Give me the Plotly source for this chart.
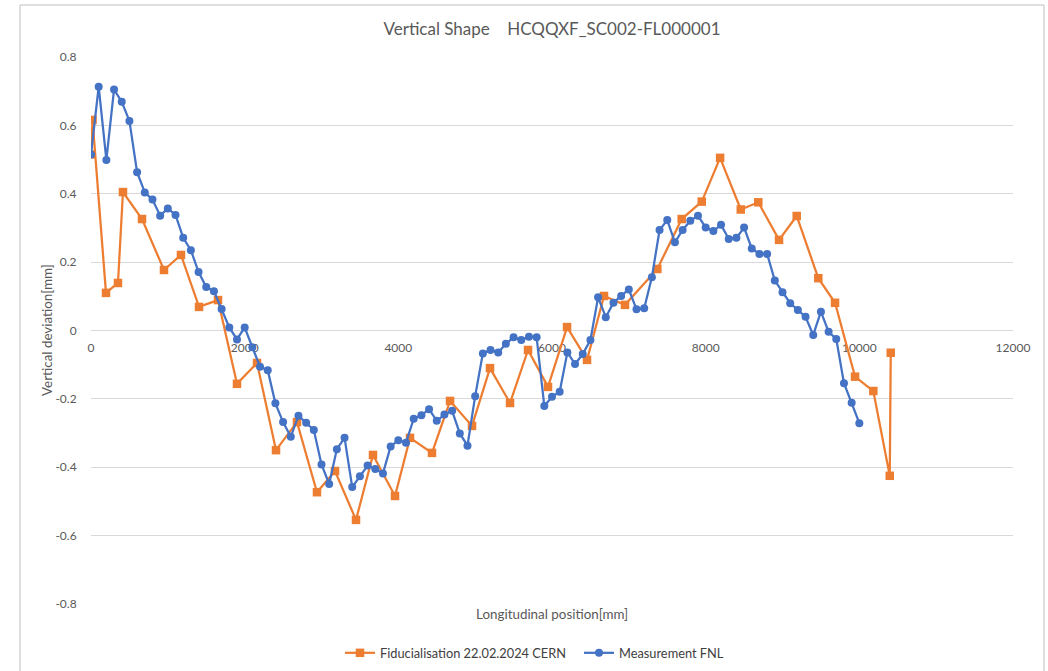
import plotly.graph_objects as go

# ---- data ----
fnl_x = [0, 100, 200, 300, 400, 500, 600, 700, 800, 900,
         1000, 1100, 1200, 1300, 1400, 1500, 1600, 1700, 1800, 1900,
         2000, 2100, 2200, 2300, 2400, 2500, 2600, 2700, 2800, 2900,
         3000, 3100, 3200, 3300, 3400, 3500, 3600, 3700, 3800, 3900,
         4000, 4100, 4200, 4300, 4400, 4500, 4600, 4700, 4800, 4900,
         5000, 5100, 5200, 5300, 5400, 5500, 5600, 5700, 5800, 5900,
         6000, 6100, 6200, 6300, 6400, 6500, 6600, 6700, 6800, 6900,
         7000, 7100, 7200, 7300, 7400, 7500, 7600, 7700, 7800, 7900,
         8000, 8100, 8200, 8300, 8400, 8500, 8600, 8700, 8800, 8900,
         9000, 9100, 9200, 9300, 9400, 9500, 9600, 9700, 9800, 9900,
         10000]
fnl_y = [0.515, 0.713, 0.499, 0.705, 0.669, 0.613, 0.463, 0.404, 0.383, 0.336,
         0.357, 0.338, 0.271, 0.235, 0.171, 0.127, 0.115, 0.063, 0.009, -0.026,
         0.009, -0.049, -0.106, -0.116, -0.213, -0.268, -0.311, -0.249, -0.270, -0.291,
         -0.392, -0.449, -0.347, -0.314, -0.458, -0.426, -0.395, -0.405, -0.418, -0.339,
         -0.321, -0.328, -0.258, -0.248, -0.230, -0.264, -0.246, -0.235, -0.301, -0.337,
         -0.192, -0.067, -0.057, -0.064, -0.039, -0.020, -0.028, -0.018, -0.020, -0.221,
         -0.194, -0.179, -0.064, -0.098, -0.069, -0.028, 0.097, 0.039, 0.081, 0.101,
         0.120, 0.062, 0.065, 0.156, 0.294, 0.323, 0.258, 0.294, 0.321, 0.336,
         0.301, 0.291, 0.309, 0.268, 0.271, 0.301, 0.240, 0.224, 0.224, 0.146,
         0.112, 0.080, 0.060, 0.040, -0.013, 0.055, -0.004, -0.025, -0.154, -0.211,
         -0.271]

cern_x = [0, 20, 195, 351, 416, 664, 950, 1171, 1406, 1653,
          1900, 2161, 2408, 2681, 2941, 3176, 3449, 3670, 3957, 4152,
          4438, 4673, 4959, 5193, 5454, 5688, 5948, 6196, 6456, 6677,
          6950, 7371, 7688, 7949, 8188, 8457, 8685, 8955, 9185, 9466,
          9684, 9944, 10182, 10396, 10409]
cern_y = [0.515, 0.616, 0.110, 0.139, 0.405, 0.326, 0.177, 0.221, 0.069, 0.089,
          -0.156, -0.095, -0.350, -0.268, -0.473, -0.411, -0.554, -0.364, -0.484, -0.314,
          -0.358, -0.206, -0.279, -0.110, -0.212, -0.057, -0.165, 0.010, -0.086, 0.101,
          0.075, 0.180, 0.326, 0.377, 0.505, 0.354, 0.375, 0.265, 0.335, 0.153,
          0.081, -0.135, -0.177, -0.425, -0.065]

x_ticks = [0, 2000, 4000, 6000, 8000, 10000, 12000]
x_tick_text = ["0", "2000", "4000", "6000", "8000", "10000", "12000"]
y_ticks = [0.8, 0.6, 0.4, 0.2, 0, -0.2, -0.4, -0.6, -0.8]
y_tick_text = ["0.8", "0.6", "0.4", "0.2", "0", "-0.2", "-0.4", "-0.6", "-0.8"]

title_text = "Vertical Shape\u00a0\u00a0\u00a0\u00a0HCQQXF_SC002-FL000001"
x_title = "Longitudinal position[mm]"
y_title = "Vertical deviation[mm]"
name_cern = "Fiducialisation 22.02.2024 CERN"
name_fnl = "Measurement FNL"

ORANGE = "#ED7D31"
BLUE = "#4472C4"
GRID = "#D9D9D9"
TXT = "#595959"
FONT = "Lato, 'Open Sans', sans-serif"

fig = go.Figure()
fig.add_trace(go.Scatter(
    x=cern_x, y=cern_y, name=name_cern, mode="lines+markers",
    line=dict(color=ORANGE, width=2.25),
    marker=dict(symbol="square", size=8.5, color=ORANGE),
))
fig.add_trace(go.Scatter(
    x=fnl_x, y=fnl_y, name=name_fnl, mode="lines+markers",
    line=dict(color=BLUE, width=2.25),
    marker=dict(symbol="circle", size=8, color=BLUE),
))

W, H = 1048, 671
L, R, T, B = 91, 35, 57, 67
pw, ph = W - L - R, H - T - B

def px_x(p):
    return (p - L) / pw

def px_y(p):
    return (H - B - p) / ph

fig.update_layout(
    width=W, height=H,
    margin=dict(l=L, r=R, t=T, b=B, autoexpand=False),
    paper_bgcolor="white", plot_bgcolor="white",
    font=dict(family=FONT, color=TXT, size=12),
    title=dict(text=title_text, xref="paper", x=px_x(552), xanchor="center",
               yref="container", y=1 - 29 / H, yanchor="middle",
               font=dict(size=17, color=TXT, family=FONT)),
    showlegend=True,
    legend=dict(orientation="h", x=px_x(340), xanchor="left",
                y=px_y(653), yanchor="middle",
                font=dict(size=12.8, color="#404040", family=FONT),
                bgcolor="rgba(0,0,0,0)", tracegroupgap=0,
                entrywidth=194),
    xaxis=dict(range=[0, 12000], tickvals=x_ticks, ticktext=x_tick_text,
               showgrid=False, zeroline=False, showline=False,
               anchor="free", position=0.5,
               ticks="outside", ticklen=6, tickcolor="rgba(0,0,0,0)",
               tickfont=dict(size=12, color=TXT), layer="below traces"),
    yaxis=dict(range=[-0.8, 0.8], tickvals=y_ticks, ticktext=y_tick_text,
               showgrid=True, gridcolor=GRID, gridwidth=1,
               zeroline=True, zerolinecolor=GRID, zerolinewidth=1,
               showline=False, ticks="outside", ticklen=11,
               tickcolor="rgba(0,0,0,0)", tickfont=dict(size=12, color=TXT)),
    annotations=[
        dict(text=x_title, xref="paper", yref="paper", x=px_x(552), y=px_y(614),
             xanchor="center", yanchor="middle", showarrow=False,
             font=dict(size=13.4, color=TXT, family=FONT)),
        dict(text=y_title, xref="paper", yref="paper", x=px_x(47), y=px_y(330),
             xanchor="center", yanchor="middle", showarrow=False, textangle=-90,
             font=dict(size=13.4, color=TXT, family=FONT)),
    ],
    shapes=[
        dict(type="rect", xref="paper", yref="paper",
             x0=px_x(20), x1=px_x(1044), y0=px_y(680), y1=px_y(5),
             line=dict(color="#BFBFBF", width=1), fillcolor="rgba(0,0,0,0)",
             layer="below"),
    ],
)

fig.write_html("out.html",
               config={"displayModeBar": False},
               post_script="document.body.style.margin='0';document.body.style.overflow='hidden';")
